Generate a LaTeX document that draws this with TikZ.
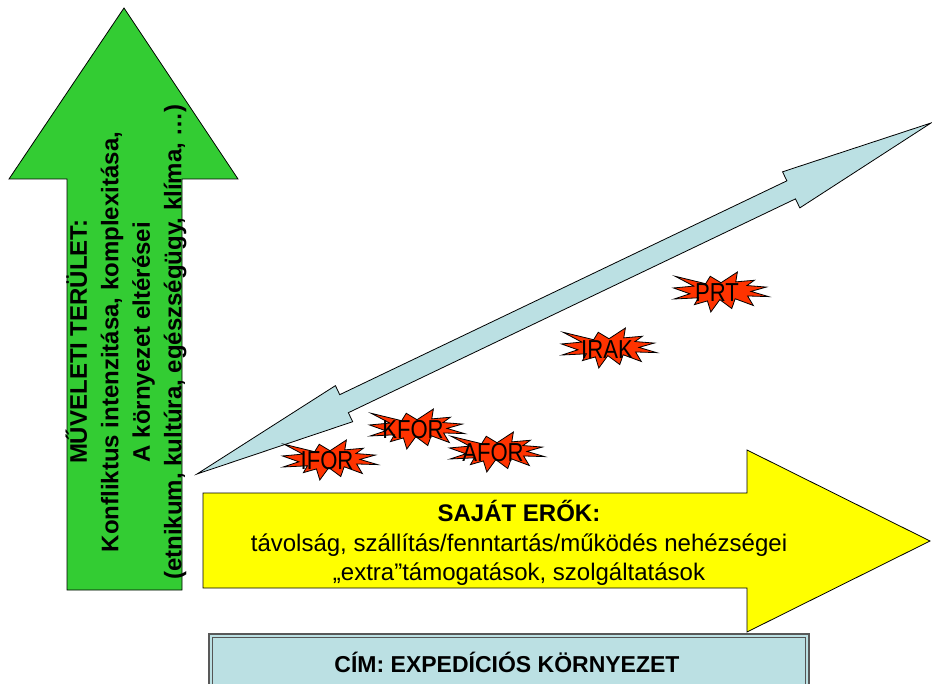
\documentclass[tikz,border=0pt]{standalone}
\usepackage{fontspec}
\setmainfont{Liberation Sans}
\usetikzlibrary{calc}
\definecolor{grn}{HTML}{33CC33}
\definecolor{ylw}{HTML}{FFFF00}
\definecolor{lblue}{HTML}{BBE0E3}
\definecolor{boomred}{HTML}{FF3300}
\definecolor{boxline}{HTML}{555555}
\tikzset{
  bigarrow/.style={draw=black, line width=0.8pt, line join=miter},
  boomtext/.style={inner sep=0pt, font=\fontsize{26}{28}\selectfont, xscale=0.85},
  boom/.pic={
    \draw[fill=boomred, draw=black, line width=0.8pt, xscale=0.44, yscale=0.185]
      (0,-50) -- (37.22,-108) -- (33.55,-54.75) -- (75.8,-63.43) -- (59.02,-34.85)
      -- (102.97,-26.63) -- (68.07,-3.25) -- (108,24.9) -- (60.37,21.42)
      -- (73.45,72.95) -- (32.2,36.57) -- (24.47,89.37) -- (-2.68,41.35)
      -- (-23.15,108) -- (-30.85,48.27) -- (-60.38,68.17) -- (-51.33,31.37)
      -- (-106.65,37.87) -- (-70.78,9.75) -- (-108,-21.85) -- (-61.73,-31.83)
      -- (-104.3,-85.05) -- (-34.88,-44.8) -- (-24.48,-85.05) -- cycle;
  }
}
\begin{document}
\begin{tikzpicture}[x=1pt,y=-1pt]
\useasboundingbox (0,0) rectangle (932,684);
\fill[white] (0,0) rectangle (932,684);

% green arrow
\draw[bigarrow, fill=grn] (124,8) -- (238,179) -- (182,179) -- (182,590)
  -- (67,590) -- (67,179) -- (9,179) -- cycle;
\node[rotate=90, align=center, font=\bfseries\fontsize{24}{31.5}\selectfont] (green) at (126,342)
  {MŰVELETI TERÜLET:\\Konfliktus intenzitása, komplexitása,\\A környezet eltérései\\(etnikum, kultúra, egészségügy, klíma, …)};

% yellow arrow
\draw[bigarrow, fill=ylw] (203,493) -- (747,493) -- (747,450) -- (930,541)
  -- (747,632) -- (747,588) -- (203,588) -- cycle;
\node[align=center, font=\fontsize{24}{29.5}\selectfont] (yellow) at (519,543)
  {\textbf{SAJÁT ERŐK:}\\távolság, szállítás/fenntartás/működés nehézségei\\„extra”támogatások, szolgáltatások};

% blue double arrow
\coordinate (A) at (197,474);
\coordinate (B) at (931,123);
\coordinate (HA) at ($(A)!163pt!(B)$);
\coordinate (HB) at ($(B)!155pt!(A)$);
\draw[bigarrow, fill=lblue] (A) -- ($(HA)!20pt!90:(B)$) -- ($(HA)!10pt!90:(B)$)
  -- ($(HB)!10pt!-90:(A)$) -- ($(HB)!20pt!-90:(A)$) -- (B)
  -- ($(HB)!20pt!90:(A)$) -- ($(HB)!10pt!90:(A)$)
  -- ($(HA)!10pt!-90:(B)$) -- ($(HA)!20pt!-90:(B)$) -- cycle;

% explosions
\pic at (330,460) {boom};
\node[boomtext] (ifor) at (327,461) {IFOR};
\pic at (417,429) {boom};
\node[boomtext] (kfor) at (413,430) {KFOR};
\pic at (497,452) {boom};
\node[boomtext] (afor) at (493,453) {AFOR};
\pic at (609,348) {boom};
\node[boomtext] (irak) at (607,350) {IRAK};
\pic at (721,292) {boom};
\node[boomtext] (prt) at (717,293) {PRT};

% title box
\draw[fill=lblue, draw=gray!70!black, line width=1.5pt] (209,634) rectangle (809,700);
\draw[draw=boxline, line width=0.8pt] (212.5,637.5) rectangle (805.5,700);
\node[font=\bfseries\fontsize{23}{25}\selectfont] (title) at (507,662) {CÍM: EXPEDÍCIÓS KÖRNYEZET};
\end{tikzpicture}
\end{document}
